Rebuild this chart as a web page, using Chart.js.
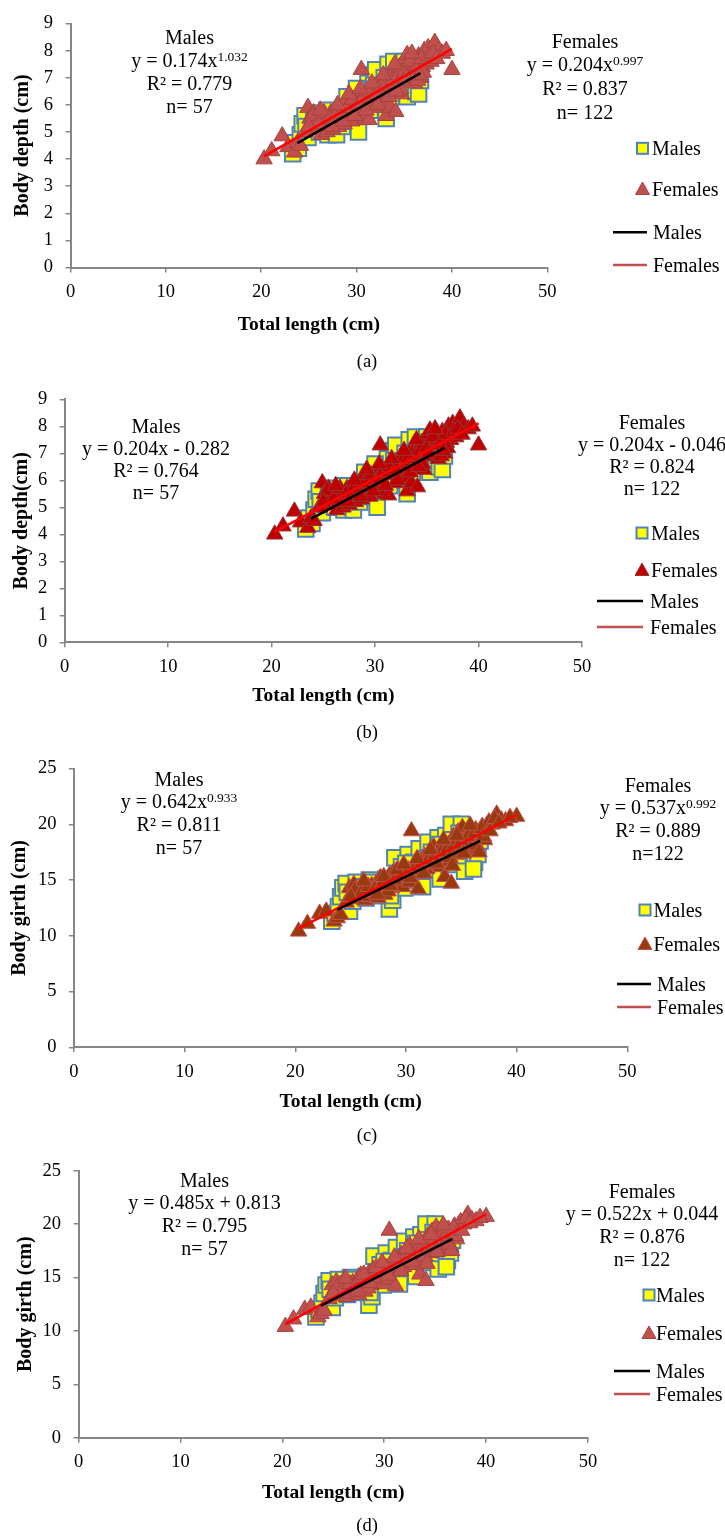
<!DOCTYPE html>
<html lang="en">
<head>
<meta charset="UTF-8">
<title>Body depth and girth against total length</title>
<script src="https://cdn.jsdelivr.net/npm/chart.js"></script>
<style>
    body {
        margin: 0;
        background-color: #ffffff;
    }
    .panel {
        position: absolute;
        left: 0;
        width: 725px;
    }
</style>
</head>
<body>
<div class="panel" style="top:0px"><canvas id="chartA" width="725" height="375"></canvas></div>
<div class="panel" style="top:375px"><canvas id="chartB" width="725" height="370"></canvas></div>
<div class="panel" style="top:745px"><canvas id="chartC" width="725" height="403"></canvas></div>
<div class="panel" style="top:1140px"><canvas id="chartD" width="725" height="396"></canvas></div>

<script>
// ---- data ----
const maleLength = [
    23.3, 23.6, 23.9, 24.1, 24.3, 24.6, 24.9, 25.2, 25.5, 25.8,
    26.1, 26.4, 26.7, 27.0, 27.3, 27.6, 27.9, 28.2, 28.5, 28.8,
    29.0, 29.3, 29.6, 29.9, 30.2, 30.5, 30.7, 31.0, 31.2, 31.5,
    31.8, 32.0, 32.3, 32.6, 32.9, 33.1, 33.3, 33.6, 33.9, 34.1,
    34.4, 34.7, 35.0, 35.3, 35.6, 35.9, 36.2, 36.5, 36.7, 24.7,
    26.9, 28.6, 30.0, 31.4, 33.0, 34.8, 36.1
];
const maleDepth = [
    4.2, 4.6, 4.4, 4.9, 5.3, 5.6, 4.8, 5.1, 5.5, 5.7,
    5.0, 5.4, 5.6, 4.9, 5.3, 5.5, 4.9, 5.6, 5.2, 5.9,
    6.3, 5.6, 6.0, 6.4, 5.0, 6.1, 5.7, 6.5, 6.8, 6.2,
    7.1, 7.3, 6.6, 6.0, 7.0, 5.5, 7.5, 6.3, 7.6, 6.9,
    7.3, 6.6, 7.6, 6.3, 7.2, 6.8, 6.5, 6.4, 6.9, 5.2,
    5.8, 5.4, 6.6, 5.8, 6.4, 7.0, 7.1
];
const maleGirth = [
    11.3, 12.0, 12.6, 13.5, 14.3, 14.7, 12.2, 13.1, 14.8, 13.8,
    14.4, 13.4, 15.0, 13.9, 14.6, 13.6, 14.2, 15.1, 12.4, 13.2,
    17.0, 15.5, 16.2, 14.3, 17.3, 15.0, 16.6, 15.6, 17.8, 14.4,
    16.9, 18.4, 17.5, 16.0, 18.8, 15.1, 17.2, 19.0, 16.4, 20.0,
    18.1, 17.0, 20.0, 15.8, 19.4, 17.6, 16.6, 17.3, 18.5, 13.9,
    14.8, 13.6, 16.5, 15.9, 18.2, 19.2, 16.0
];

const femaleLength = [
    20.3, 21.1, 22.2, 22.8, 23.5, 23.8, 24.1, 24.9, 25.1, 25.3,
    25.5, 25.7, 25.9, 26.1, 26.3, 26.5, 26.7, 26.9, 27.1, 27.3,
    27.5, 27.7, 27.9, 28.1, 28.3, 28.5, 28.7, 28.9, 29.1, 29.3,
    29.5, 29.7, 29.9, 30.1, 30.3, 30.5, 30.7, 30.9, 31.1, 31.3,
    31.5, 31.7, 31.9, 32.1, 32.3, 32.5, 32.7, 32.9, 33.1, 33.3,
    33.5, 33.7, 33.9, 34.1, 34.3, 34.5, 34.7, 34.9, 35.1, 35.3,
    35.5, 35.7, 35.9, 36.1, 36.3, 36.5, 36.7, 36.9, 37.1, 37.3,
    37.5, 37.8, 38.2, 38.6, 39.0, 40.0, 25.4, 26.0, 26.6, 27.2,
    27.8, 28.4, 29.0, 29.6, 30.2, 30.8, 31.4, 32.0, 32.6, 33.2,
    33.8, 34.4, 35.0, 35.6, 36.2, 36.8, 24.6, 25.0, 26.2, 27.4,
    28.0, 28.6, 29.2, 29.8, 30.4, 31.0, 31.6, 32.2, 32.8, 33.4,
    34.0, 34.6, 35.2, 35.8, 36.4, 37.0, 37.6, 38.0, 38.4, 39.4,
    36.6, 34.2
];
const femaleDepth = [
    4.0, 4.3, 4.85, 4.45, 4.25, 4.6, 4.5, 5.9, 5.5, 5.3,
    5.7, 5.1, 5.4, 5.6, 4.9, 5.2, 5.5, 5.0, 5.3, 5.7,
    5.1, 5.4, 5.8, 5.2, 5.5, 5.9, 5.3, 6.2, 5.6, 6.0,
    5.4, 5.8, 6.1, 5.7, 6.3, 7.3, 6.0, 5.5, 6.4, 5.45,
    6.6, 6.2, 5.9, 6.7, 6.3, 6.9, 6.5, 6.1, 5.6, 7.0,
    5.9, 6.6, 7.2, 5.75, 6.8, 7.4, 6.4, 7.1, 7.7, 7.85,
    6.9, 7.3, 7.5, 6.8, 7.6, 7.8, 7.0, 7.4, 8.0, 7.5,
    8.1, 7.6, 8.3, 8.0, 7.9, 7.3, 5.6, 5.3, 5.7, 5.5,
    5.6, 5.7, 5.9, 6.2, 6.0, 6.3, 6.5, 6.4, 6.7, 6.8,
    6.9, 7.1, 7.2, 7.6, 7.3, 7.7, 5.0, 5.2, 5.8, 5.2,
    6.0, 5.4, 6.4, 5.6, 6.6, 5.8, 6.8, 6.0, 7.1, 6.3,
    7.5, 6.6, 7.0, 7.9, 6.9, 7.2, 7.8, 7.9, 7.7, 8.0,
    7.1, 6.5
];
const femaleGirth = [
    10.4, 11.1, 12.0, 12.2, 11.3, 11.6, 11.9, 14.3, 13.8, 14.6,
    13.3, 14.0, 13.6, 14.8, 13.2, 14.2, 13.5, 14.5, 13.9, 14.7,
    13.4, 15.2, 14.1, 13.7, 14.9, 15.4, 14.3, 15.7, 14.6, 15.1,
    15.8, 14.4, 16.1, 15.3, 14.8, 19.4, 16.3, 15.6, 14.2, 16.7,
    15.9, 17.1, 16.0, 17.4, 16.4, 18.0, 16.9, 17.6, 16.2, 18.3,
    15.3, 17.8, 16.7, 14.7, 18.9, 17.3, 19.3, 18.0, 19.7, 17.6,
    18.6, 19.1, 17.9, 18.4, 19.5, 17.8, 18.8, 19.8, 18.6, 19.9,
    20.2, 20.0, 20.9, 20.4, 20.3, 20.7, 14.1, 13.9, 14.4, 14.2,
    14.6, 14.0, 15.0, 15.5, 15.9, 16.1, 16.5, 16.8, 17.2, 17.5,
    17.9, 18.2, 18.5, 18.9, 19.2, 19.6, 13.0, 13.5, 14.9, 13.7,
    15.3, 14.5, 15.9, 16.4, 15.2, 16.9, 15.6, 17.7, 16.5, 18.6,
    17.0, 19.0, 17.4, 19.9, 18.1, 18.9, 19.4, 20.5, 20.1, 20.6,
    17.5, 16.3
];

// trend line end points (start and end of each fitted line)
const maleTrendX = [23.8, 36.7];
const femaleTrendX = [20.3, 40.0];
const maleDepthPowerTrend = [4.59, 7.17];
const femaleDepthPowerTrend = [4.10, 8.07];
const maleDepthLinearTrend = [4.57, 7.20];
const femaleDepthLinearTrend = [4.09, 8.11];
const maleGirthPowerTrend = [12.36, 18.51];
const femaleGirthPowerTrend = [10.64, 20.86];
const maleGirthLinearTrend = [12.36, 18.61];
const femaleGirthLinearTrend = [10.64, 20.92];

// axis ticks
const xTicks = [0, 10, 20, 30, 40, 50];
const depthTicks = [0, 1, 2, 3, 4, 5, 6, 7, 8, 9];
const girthTicks = [0, 5, 10, 15, 20, 25];

// ---- panel layout (page coordinates) ----
const panels = [
    {
        id: 'chartA', top: 0, height: 375,
        area: {left: 70.5, right: 547.3, top: 17.3, bottom: 267.5},
        yTicks: depthTicks, yTitle: 'Body depth (cm)', yTitleX: 22.5, xTitleY: 325,
        maleY: maleDepth, femaleY: femaleDepth,
        maleTrend: maleDepthPowerTrend, femaleTrend: femaleDepthPowerTrend,
        triFill: '#C0504D', triBorder: '#A8423F',
        maleNote: {x: 189.5, y: 43.5, step: 23.3, lines: ['Males', 'y = 0.174x^1.032', 'R² = 0.779', 'n= 57']},
        femaleNote: {x: 585, y: 47.5, step: 23.7, lines: ['Females', 'y = 0.204x^0.997', 'R² = 0.837', 'n= 122']},
        legend: {mx: 642.5, tx: 652, sqY: 148.3, triY: 189, lx1: 613, lx2: 647, ltx: 653, lmY: 232.3, lfY: 265},
        caption: '(a)', captionY: 362
    },
    {
        id: 'chartB', top: 375, height: 370,
        area: {left: 64.7, right: 582, top: 399.3, bottom: 642.3},
        yTicks: depthTicks, yTitle: 'Body depth(cm)', yTitleX: 21.5, xTitleY: 696,
        maleY: maleDepth, femaleY: femaleDepth,
        maleTrend: maleDepthLinearTrend, femaleTrend: femaleDepthLinearTrend,
        triFill: '#C00000', triBorder: '#943634',
        maleNote: {x: 156, y: 432.5, step: 22.3, lines: ['Males', 'y = 0.204x - 0.282', 'R² = 0.764', 'n= 57']},
        femaleNote: {x: 652, y: 428.5, step: 22, lines: ['Females', 'y = 0.204x - 0.046', 'R² = 0.824', 'n= 122']},
        legend: {mx: 642, tx: 651, sqY: 533, triY: 570, lx1: 597, lx2: 643, ltx: 650, lmY: 601, lfY: 627},
        caption: '(b)', captionY: 733
    },
    {
        id: 'chartC', top: 745, height: 403,
        area: {left: 73.9, right: 627.3, top: 767.3, bottom: 1047.3},
        yTicks: girthTicks, yTitle: 'Body girth (cm)', yTitleX: 20, xTitleY: 1102,
        maleY: maleGirth, femaleY: femaleGirth,
        maleTrend: maleGirthPowerTrend, femaleTrend: femaleGirthPowerTrend,
        triFill: '#983A0E', triBorder: '#C0504D',
        maleNote: {x: 179, y: 785.5, step: 22.7, lines: ['Males', 'y = 0.642x^0.933', 'R² = 0.811', 'n= 57']},
        femaleNote: {x: 658, y: 791.5, step: 22.7, lines: ['Females', 'y = 0.537x^0.992', 'R² = 0.889', 'n=122']},
        legend: {mx: 645, tx: 653.5, sqY: 910, triY: 944, lx1: 617, lx2: 651, ltx: 657, lmY: 984, lfY: 1007},
        caption: '(c)', captionY: 1136
    },
    {
        id: 'chartD', top: 1140, height: 396,
        area: {left: 78.5, right: 588, top: 1170.7, bottom: 1437.7},
        yTicks: girthTicks, yTitle: 'Body girth (cm)', yTitleX: 25.5, xTitleY: 1493,
        maleY: maleGirth, femaleY: femaleGirth,
        maleTrend: maleGirthLinearTrend, femaleTrend: femaleGirthLinearTrend,
        triFill: '#C0504D', triBorder: '#A8423F',
        maleNote: {x: 204.5, y: 1186.5, step: 22.7, lines: ['Males', 'y = 0.485x + 0.813', 'R² = 0.795', 'n= 57']},
        femaleNote: {x: 642, y: 1197.5, step: 22.7, lines: ['Females', 'y = 0.522x + 0.044', 'R² = 0.876', 'n= 122']},
        legend: {mx: 649, tx: 656, sqY: 1295, triY: 1333, lx1: 614, lx2: 650, ltx: 656, lmY: 1371, lfY: 1394},
        caption: '(d)', captionY: 1526.5
    }
];

const SERIF = '"Liberation Serif", "Times New Roman", serif';
const AXIS_GREY = '#868686';

function toPoints(xs, ys) {
    return xs.map((x, i) => ({x: x, y: ys[i]}));
}

// one text line, "^" marks the start of a superscript
function drawNoteLine(ctx, text, cx, y) {
    const parts = text.split('^');
    const base = parts[0];
    const sup = parts[1] || '';
    ctx.font = '20px ' + SERIF;
    const wBase = ctx.measureText(base).width;
    ctx.font = '13.5px ' + SERIF;
    const wSup = ctx.measureText(sup).width;
    let x = cx - (wBase + wSup) / 2;
    ctx.textAlign = 'left';
    ctx.font = '20px ' + SERIF;
    ctx.fillText(base, x, y);
    if (sup) {
        ctx.font = '13.5px ' + SERIF;
        ctx.fillText(sup, x + wBase, y - 6);
    }
}

function drawOverlay(chart, p) {
    const ctx = chart.ctx;
    const t = p.top;
    const L = p.legend;
    ctx.save();
    ctx.fillStyle = '#000';
    ctx.textBaseline = 'alphabetic';

    [p.maleNote, p.femaleNote].forEach(n => {
        n.lines.forEach((line, i) => drawNoteLine(ctx, line, n.x, n.y - t + i * n.step));
    });

    // legend markers
    ctx.fillStyle = '#FFFF00';
    ctx.strokeStyle = '#4F81BD';
    ctx.lineWidth = 2;
    ctx.fillRect(L.mx - 5.5, L.sqY - t - 5.5, 11, 11);
    ctx.strokeRect(L.mx - 5.5, L.sqY - t - 5.5, 11, 11);

    ctx.beginPath();
    ctx.moveTo(L.mx, L.triY - t - 7);
    ctx.lineTo(L.mx + 7, L.triY - t + 5.5);
    ctx.lineTo(L.mx - 7, L.triY - t + 5.5);
    ctx.closePath();
    ctx.fillStyle = p.triFill;
    ctx.fill();
    ctx.strokeStyle = p.triBorder;
    ctx.lineWidth = 1;
    ctx.stroke();

    ctx.lineWidth = 2.5;
    ctx.strokeStyle = '#000';
    ctx.beginPath();
    ctx.moveTo(L.lx1, L.lmY - t);
    ctx.lineTo(L.lx2, L.lmY - t);
    ctx.stroke();
    ctx.strokeStyle = '#C0504D';
    ctx.beginPath();
    ctx.moveTo(L.lx1, L.lfY - t);
    ctx.lineTo(L.lx2, L.lfY - t);
    ctx.stroke();

    // legend texts
    ctx.fillStyle = '#000';
    ctx.font = '20px ' + SERIF;
    ctx.textAlign = 'left';
    ctx.fillText('Males', L.tx, L.sqY - t + 6.5);
    ctx.fillText('Females', L.tx, L.triY - t + 6.5);
    ctx.fillText('Males', L.ltx, L.lmY - t + 6.5);
    ctx.fillText('Females', L.ltx, L.lfY - t + 6.5);

    // panel caption
    ctx.font = '18.5px ' + SERIF;
    ctx.textAlign = 'center';
    ctx.textBaseline = 'middle';
    ctx.fillText(p.caption, 367, p.captionY - t);
    ctx.restore();
}

function makeChart(p) {
    const ctx = document.getElementById(p.id).getContext('2d');
    const areaTop = p.area.top - p.top;
    const areaBottom = p.area.bottom - p.top;
    const xBoxHeight = p.xTitleY + 12 - p.area.bottom;
    const yMax = p.yTicks[p.yTicks.length - 1];

    return new Chart(ctx, {
        type: 'scatter',
        data: {
            datasets: [
                {
                    label: 'Males',
                    data: toPoints(maleTrendX, p.maleTrend),
                    showLine: true,
                    pointRadius: 0,
                    borderColor: '#000000',
                    borderWidth: 2.5
                },
                {
                    label: 'Females',
                    data: toPoints(femaleTrendX, p.femaleTrend),
                    showLine: true,
                    pointRadius: 0,
                    borderColor: '#FF0000',
                    borderWidth: 2.5
                },
                {
                    label: 'Females',
                    data: toPoints(femaleLength, p.femaleY),
                    pointStyle: 'triangle',
                    pointRadius: 9.5,
                    backgroundColor: p.triFill,
                    borderColor: p.triBorder,
                    borderWidth: 1
                },
                {
                    label: 'Males',
                    data: toPoints(maleLength, p.maleY),
                    pointStyle: 'rect',
                    pointRadius: 11,
                    backgroundColor: '#FFFF00',
                    borderColor: '#4F81BD',
                    borderWidth: 2
                }
            ]
        },
        options: {
            responsive: false,
            animation: false,
            devicePixelRatio: 1,
            events: [],
            layout: {
                padding: {
                    left: 0,
                    top: areaTop,
                    right: 725 - p.area.right,
                    bottom: p.height - areaBottom - xBoxHeight
                }
            },
            plugins: {
                legend: {display: false},
                tooltip: {enabled: false}
            },
            scales: {
                x: {
                    type: 'linear',
                    min: xTicks[0],
                    max: xTicks[xTicks.length - 1],
                    afterBuildTicks: s => { s.ticks = xTicks.map(v => ({value: v})); },
                    afterFit: s => { s.height = xBoxHeight; },
                    border: {display: true, color: AXIS_GREY, width: 2},
                    grid: {drawOnChartArea: false, drawTicks: true, tickLength: 5, color: AXIS_GREY, lineWidth: 1.5},
                    ticks: {color: '#000', padding: 8.5, maxRotation: 0, font: {family: SERIF, size: 18.5}},
                    title: {
                        display: true,
                        text: 'Total length (cm)',
                        color: '#000',
                        padding: {top: 0, bottom: 0},
                        font: {family: SERIF, size: 19.5, weight: 'bold', lineHeight: 1.2}
                    }
                },
                y: {
                    type: 'linear',
                    min: p.yTicks[0],
                    max: yMax,
                    afterBuildTicks: s => { s.ticks = p.yTicks.map(v => ({value: v})); },
                    afterFit: s => { s.width = p.area.left; },
                    border: {display: true, color: AXIS_GREY, width: 2},
                    grid: {drawOnChartArea: false, drawTicks: true, tickLength: 5, color: AXIS_GREY, lineWidth: 1.5},
                    ticks: {color: '#000', padding: 12.5, font: {family: SERIF, size: 18.5}},
                    title: {
                        display: true,
                        text: p.yTitle,
                        color: '#000',
                        padding: {top: p.yTitleX - 12, bottom: 0},
                        font: {family: SERIF, size: 20, weight: 'bold', lineHeight: 1.2}
                    }
                }
            }
        },
        plugins: [{
            id: 'overlay',
            afterDraw: chart => drawOverlay(chart, p)
        }]
    });
}

panels.forEach(makeChart);
</script>
</body>
</html>
